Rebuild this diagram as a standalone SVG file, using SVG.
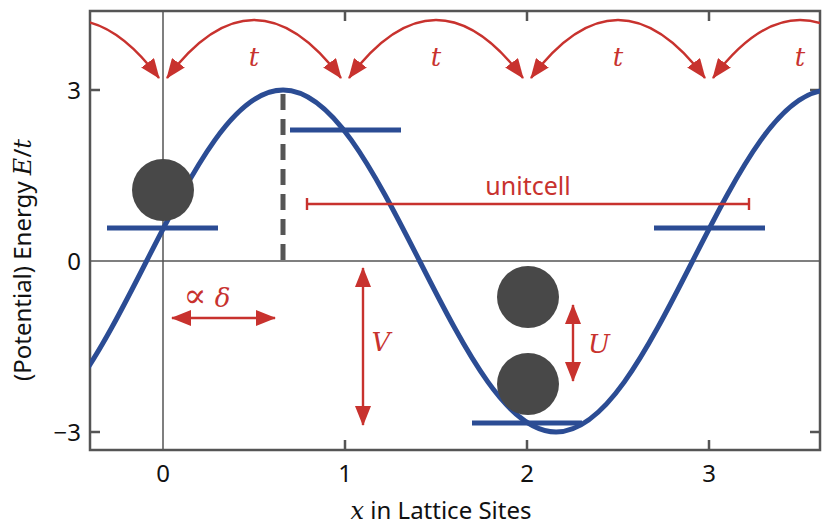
<svg xmlns="http://www.w3.org/2000/svg" width="831" height="530" viewBox="0 0 831 530">
<style>
.ax{stroke:#555;stroke-width:2.5;fill:none}
.grid{stroke:#555;stroke-width:1.5}
.lbl{font-family:"Noto Sans","Open Sans",sans-serif;font-size:24px;fill:#111}
.m{font-family:"DejaVu Serif","Liberation Serif",serif;font-style:italic}
.red{stroke:#c8322e;stroke-width:2.4;fill:none}
.rt{font-family:"DejaVu Serif","Liberation Serif",serif;font-style:italic;font-size:26px;fill:#c8322e}
.bar{stroke:#2b4c94;stroke-width:5}
.ball{fill:#484848}
</style>
<defs>
<clipPath id="c"><rect x="90" y="11" width="730" height="439"/></clipPath>
<marker id="ah" viewBox="0 0 20 16" refX="19" refY="8" markerWidth="20" markerHeight="16" markerUnits="userSpaceOnUse" orient="auto-start-reverse"><path d="M0,0 L20,8 L0,16 z" fill="#c8322e"/></marker>
</defs>
<rect width="831" height="530" fill="#fff"/>
<g id="axes">
<line class="grid" x1="163" y1="11" x2="163" y2="450"/>
<line class="grid" x1="90" y1="261" x2="820" y2="261"/>
<rect class="ax" x="90" y="11" width="730" height="439"/>
<path class="ax" d="M345,450v-10M527,450v-10M709,450v-10M345,11v10M527,11v10M709,11v10M90,90h10M90,432h10M820,90h-10M820,432h-10"/>
<g class="lbl" text-anchor="middle">
<text x="163" y="482">0</text><text x="345" y="482">1</text><text x="527" y="482">2</text><text x="709" y="482">3</text>
</g>
<g class="lbl" text-anchor="end">
<text x="81" y="99">3</text><text x="81" y="270">0</text><text x="81" y="441">−3</text>
</g>
<text class="lbl" x="441" y="519" text-anchor="middle"><tspan class="m">x</tspan> in Lattice Sites</text>
<text class="lbl" transform="translate(31,260) rotate(-90)" text-anchor="middle">(Potential) Energy <tspan class="m">E</tspan>/<tspan class="m">t</tspan></text>
</g>
<g id="potential" clip-path="url(#c)">
<path d="M10.1,432 C58.1,432 98.6,355.4 146.6,261 C194.6,166.6 235.1,90 283.1,90 C331.1,90 371.6,166.6 419.6,261 C467.6,355.4 508.1,432 556.1,432 C604.1,432 644.6,355.4 692.6,261 C740.6,166.6 781.1,90 829.1,90" fill="none" stroke="#2b4c94" stroke-width="5"/>
</g>
<line id="peak" x1="283" y1="94" x2="283" y2="261" stroke="#555" stroke-width="5" stroke-dasharray="16,9"/>
<g id="levels">
<line class="bar" x1="107" y1="228" x2="218" y2="228"/>
<line class="bar" x1="290" y1="130" x2="401" y2="130"/>
<line class="bar" x1="472" y1="423" x2="582" y2="423"/>
<line class="bar" x1="654" y1="228" x2="765" y2="228"/>
</g>
<g id="particles">
<circle class="ball" cx="163" cy="190" r="31"/>
<circle class="ball" cx="528" cy="297" r="31"/>
<circle class="ball" cx="528" cy="384" r="31"/>
</g>
<g id="connectors">
<g clip-path="url(#c)">
<path class="red" d="M-15,78 Q72,-38 159,78" marker-end="url(#ah)"/>
<path class="red" d="M167,78 Q254,-38 341,78" marker-start="url(#ah)" marker-end="url(#ah)"/>
<path class="red" d="M349,78 Q436,-38 523,78" marker-start="url(#ah)" marker-end="url(#ah)"/>
<path class="red" d="M531,78 Q618,-38 705,78" marker-start="url(#ah)" marker-end="url(#ah)"/>
<path class="red" d="M713,78 Q800,-38 887,78" marker-start="url(#ah)"/>
</g>
<path class="red" d="M307,204H749M307,198v12M749,198v12"/>
<line class="red" x1="172" y1="318" x2="275" y2="318" marker-start="url(#ah)" marker-end="url(#ah)"/>
<line class="red" x1="363" y1="268" x2="363" y2="425" marker-start="url(#ah)" marker-end="url(#ah)"/>
<line class="red" x1="573" y1="305" x2="573" y2="381" marker-start="url(#ah)" marker-end="url(#ah)"/>
</g>
<g id="labels">
<text class="rt" x="254" y="66" text-anchor="middle">t</text>
<text class="rt" x="436" y="66" text-anchor="middle">t</text>
<text class="rt" x="618" y="66" text-anchor="middle">t</text>
<text class="rt" x="800" y="66" text-anchor="middle">t</text>
<text x="528" y="195" text-anchor="middle" style="font-family:'Noto Sans','Open Sans',sans-serif;font-size:25px;fill:#c8322e">unitcell</text>
<text class="rt" x="207" y="307" text-anchor="middle"><tspan font-size="34" font-style="normal">∝</tspan> δ</text>
<text class="rt" x="381" y="351" text-anchor="middle">V</text>
<text class="rt" x="599" y="353" text-anchor="middle">U</text>
</g>
</svg>
